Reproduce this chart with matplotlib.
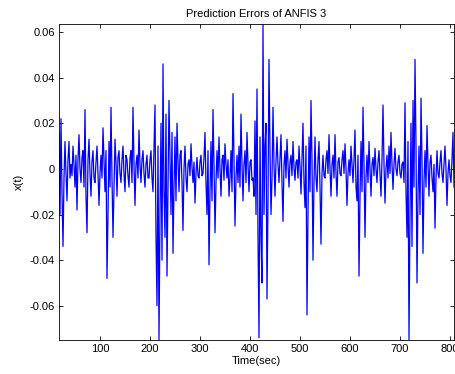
import matplotlib
matplotlib.use("Agg")
import matplotlib.pyplot as plt
import numpy as np
from matplotlib.ticker import FuncFormatter

# prediction error, in units of 1e-3, one value every 2 sec from t=18
err_milli = [
    16, -20, 22, -10, -34, -4, 12, -2, -14, 4,
    12, -4, 2, -3, 10, 2, -8, 6, -18, 4,
    15, 0, -6, 5, 8, -8, 26, -12, -28, 4,
    13, -2, -12, 3, 8, -4, -6, 3, 10, -2,
    -16, -2, 6, -4, 18, 4, -10, 8, -48, -20,
    12, -8, 27, -4, -30, -8, 13, 3, -12, 5,
    8, -2, -6, 4, 10, -2, -10, 6, 4, -3,
    -8, 5, 8, -6, 27, 2, -16, 2, 6, -4,
    17, 2, -6, 4, 8, -2, -8, 2, 6, -4,
    -4, 4, 8, -4, -10, 8, 28, -30, -60, 10,
    -75, -20, 20, -40, 46, -10, -30, 24, -47, -10,
    30, 6, -20, 16, -37, -8, 14, -14, 20, 4,
    -10, 6, 8, -6, -27, 0, 10, -4, -10, 2,
    4, -3, 11, 1, -6, 3, -15, -2, 5, -3,
    -4, 3, 6, -3, -2, 5, 16, -6, -20, 8,
    -42, -10, 12, -14, 26, 2, -28, -6, 8, -4,
    14, 0, -12, 4, 6, -5, 11, 2, -4, 4,
    -12, -4, 8, -10, 33, 4, -25, -4, 6, -6,
    10, -8, 24, 2, -14, 2, 8, -6, 16, 2,
    -10, 3, 4, -5, -4, -12, 21, -20, 35, -30,
    -74, 14, -30, -50, 63.4, -20, 10, 20, -57, -14,
    48, 8, -20, -4, 27, 2, -12, 3, 14, 2,
    -6, 4, 15, -6, -23, 2, 8, -4, 13, 2,
    -8, 3, 6, -3, 12, 1, -5, 3, 4, -4,
    10, 1, -11, 4, 20, -6, -17, 10, -64, -20,
    14, -10, 30, 4, -40, -6, 14, -4, -10, 4,
    12, -8, -33, -2, 6, -3, -4, 4, 8, -2,
    15, 0, -12, 2, 6, -4, 15, -2, -12, 3,
    5, -2, -3, 4, 8, -2, 11, 0, -16, -2,
    4, -3, 10, 2, -6, 4, 17, -8, -14, 6,
    -47, -12, 12, -10, 27, 2, -30, -4, 6, -6,
    12, 0, -12, 2, 5, -3, 9, 0, -6, 3,
    8, -2, -12, 4, 28, 2, -15, 0, 6, -4,
    10, -2, 16, 2, -9, 2, 9, 0, -3, 3,
    6, -2, -4, 2, 3, -6, 29, -10, -30, 12,
    -75, -20, 20, -34, 30, -8, 48, 10, -50, -12,
    10, -20, 31, 4, -37, -6, 8, -8, 19, 2,
    -12, 3, 6, -4, -10, 2, -26, -4, 8, -2,
    -4, 3, 8, -2, -6, 2, 10, 0, -16, -2,
    4, -3, -6, 4, 16, -8,
]
t_start = 18
t_step = 2
x_limits = (18, 808)
y_limits = (-0.075, 0.0635)
x_ticks = [100, 200, 300, 400, 500, 600, 700, 800]
y_ticks = [-0.06, -0.04, -0.02, 0, 0.02, 0.04, 0.06]

err = np.array(err_milli) / 1000.0
t = t_start + t_step * np.arange(len(err))

plt.rcParams['font.family'] = ['Liberation Sans', 'DejaVu Sans']
plt.rcParams['axes.unicode_minus'] = False

fig = plt.figure(figsize=(4.56, 3.74), dpi=100)
ax = fig.add_axes([59 / 456, 1 - 340 / 374, 395 / 456, 316 / 374])
ax.plot(t, err, color='#0000ff', linewidth=0.9)

ax.set_xlim(*x_limits)
ax.set_ylim(*y_limits)
ax.set_xticks(x_ticks)
ax.set_yticks(y_ticks)
ax.yaxis.set_major_formatter(FuncFormatter(lambda v, p: '%g' % round(v, 4)))
ax.tick_params(direction='in', length=3, width=0.6, labelsize=8,
               top=True, right=True, pad=3)
for sp in ax.spines.values():
    sp.set_linewidth(0.6)

ax.set_title('Prediction Errors of ANFIS 3', fontsize=8, pad=5)
ax.set_xlabel('Time(sec)', fontsize=8, labelpad=1)
ax.set_ylabel('x(t)', fontsize=8, labelpad=4)

fig.savefig('out.png', dpi=100)
